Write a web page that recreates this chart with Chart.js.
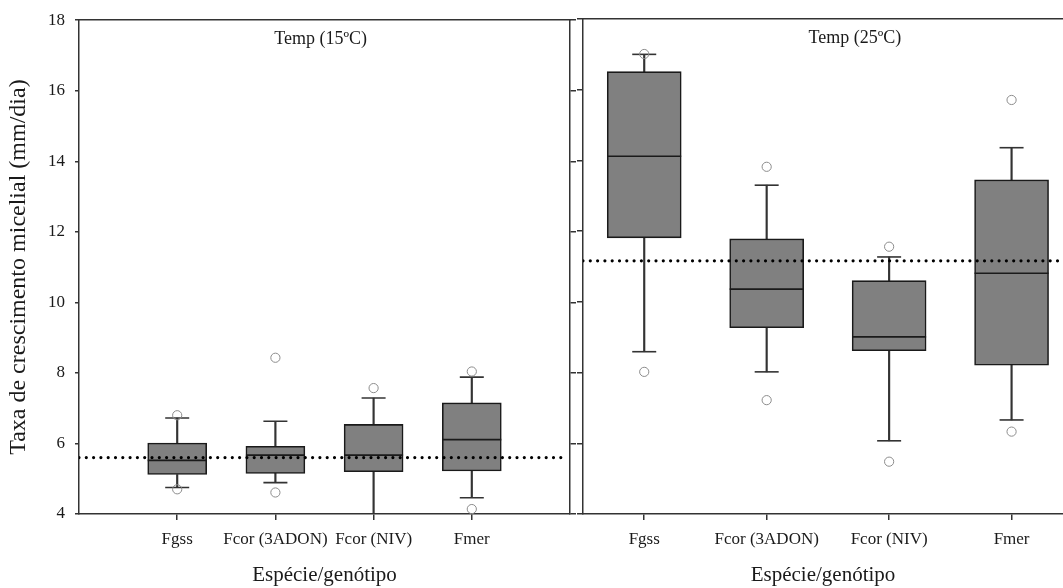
<!DOCTYPE html>
<html>
<head>
<meta charset="utf-8">
<script src="https://cdn.jsdelivr.net/npm/chart.js@4.4.1/dist/chart.umd.min.js"></script>
<style>
  html, body { margin: 0; padding: 0; background: #fff; }
  #wrap { position: relative; width: 1063px; height: 588px; overflow: hidden; }
  canvas { position: absolute; top: 0; }
  #c15 { left: 0; }
  #c25 { left: 576px; }
</style>
</head>
<body>
<div id="wrap">
  <canvas id="c15" width="576" height="588"></canvas>
  <canvas id="c25" width="487" height="588"></canvas>
</div>
<script>
"use strict";

/* ── Data ───────────────────────────────────────────────── */
const categories = ['Fgss', 'Fcor (3ADON)', 'Fcor (NIV)', 'Fmer'];
const yTicks = [4, 6, 8, 10, 12, 14, 16, 18];

// Temp 15 °C
const q1_15   = [5.12, 5.15, 5.20, 5.22];
const med_15  = [5.52, 5.67, 5.67, 6.11];
const q3_15   = [6.01, 5.92, 6.54, 7.15];
const lo_15   = [4.75, 4.89, 4.00, 4.46];
const hi_15   = [6.72, 6.63, 7.29, 7.88];
const out_15  = [[4.70, 6.80], [4.61, 8.43], [7.57], [4.14, 8.04]];
const mean_15 = 5.60;

// Temp 25 °C
const q1_25   = [11.81, 9.27, 8.62, 8.21];
const med_25  = [14.12, 10.36, 9.01, 10.81];
const q3_25   = [16.51, 11.78, 10.60, 13.45];
const lo_25   = [8.59, 8.02, 6.07, 6.66];
const hi_25   = [17.00, 13.30, 11.27, 14.36];
const out_25  = [[8.02, 17.01], [7.22, 13.82], [5.48, 11.56], [6.33, 15.71]];
const mean_25 = 11.16;

/* ── Style ──────────────────────────────────────────────── */
const FONT = '"Liberation Serif", "Times New Roman", serif';
const INK = '#1a1a1a';
const AXIS = '#333333';
const BOX_FILL = '#808080';
const OUTLIER = '#8c8c8c';

Chart.defaults.font.family = FONT;
Chart.defaults.color = INK;

/** Panel caption drawn inside the plot ("Temp (..)") */
const panelLabel = {
  id: 'panelLabel',
  afterDatasetsDraw(chart, args, opts) {
    const { ctx, chartArea, scales } = chart;
    ctx.save();
    ctx.font = `18px ${FONT}`;
    ctx.fillStyle = INK;
    ctx.textAlign = 'center';
    ctx.textBaseline = 'middle';
    ctx.fillText(opts.text, scales.x.getPixelForValue(opts.at), chartArea.top + 19);
    ctx.restore();
  }
};

/**
 * Box-plot pieces as ordinary Chart.js datasets.
 */
function boxDatasets(p) {
  const pos = categories.map((c, i) => i + 1);
  const pt = (vals) => vals.map((v, i) => ({ x: pos[i], y: v }));
  return [
    { // mean reference line (dotted)
      type: 'line', order: 0,
      data: [{ x: p.lineFrom, y: p.mean }, { x: p.lineTo, y: p.mean }],
      borderColor: '#000', borderWidth: 3.2, borderDash: [0, 7.3],
      borderCapStyle: 'round', pointRadius: 0, pointHoverRadius: 0,
    },
    { // outliers
      type: 'scatter', order: 1,
      data: p.out.flatMap((arr, i) => arr.map(v => ({ x: pos[i], y: v }))),
      pointStyle: 'circle', pointRadius: 4.6, pointHoverRadius: 4.6,
      borderColor: OUTLIER, backgroundColor: 'rgba(0,0,0,0)', borderWidth: 1,
    },
    { // medians
      type: 'scatter', order: 2, data: pt(p.med),
      pointStyle: 'line', pointRadius: p.boxW / 2, pointHoverRadius: p.boxW / 2,
      borderColor: INK, borderWidth: 1.6,
    },
    { // whisker caps
      type: 'scatter', order: 3, data: [...pt(p.lo), ...pt(p.hi)],
      pointStyle: 'line', pointRadius: 12, pointHoverRadius: 12,
      borderColor: AXIS, borderWidth: 1.6,
    },
    { // boxes
      type: 'bar', order: 4, grouped: false,
      data: p.q1.map((v, i) => ({ x: pos[i], y: [v, p.q3[i]] })),
      backgroundColor: BOX_FILL, borderColor: INK, borderWidth: 1.6,
      borderSkipped: false, barThickness: p.boxW,
    },
    { // lower whiskers
      type: 'bar', order: 5, grouped: false,
      data: p.lo.map((v, i) => ({ x: pos[i], y: [v, p.q1[i]] })),
      backgroundColor: AXIS, barThickness: 1.5,
    },
    { // upper whiskers
      type: 'bar', order: 5, grouped: false,
      data: p.hi.map((v, i) => ({ x: pos[i], y: [p.q3[i], v] })),
      backgroundColor: AXIS, barThickness: 1.5,
    },
  ];
}

function tickGrid(len) {
  return { display: true, drawOnChartArea: false, drawTicks: true,
           tickLength: len, color: AXIS, lineWidth: 1.5, offset: false };
}

function makePanel(id, p) {
  const scales = {
    x: {
      type: 'linear', min: p.xMin, max: p.xMax, offset: false,
      grid: tickGrid(6),
      border: { display: true, color: AXIS, width: 1.5 },
      afterBuildTicks: s => { s.ticks = categories.map((c, i) => ({ value: i + 1 })); },
      ticks: {
        autoSkip: false, maxRotation: 0, padding: 9,
        font: { size: 17 }, color: INK,
        callback: v => categories[v - 1],
      },
      title: { display: true, text: 'Espécie/genótipo', font: { size: 21 },
               color: INK, padding: { top: 0, bottom: 0 } },
      afterFit: s => { s.height = 74; },
    },
    xTop: {
      type: 'linear', position: 'top', min: p.xMin, max: p.xMax,
      grid: { display: false }, ticks: { display: false },
      border: { display: true, color: AXIS, width: 1.5 },
      afterFit: s => { s.height = 19; },
    },
    y: {
      type: 'linear', min: 4, max: 18,
      afterBuildTicks: s => { s.ticks = yTicks.map(v => ({ value: v })); },
      grid: tickGrid(p.showYLabels ? 4 : 6),
      border: { display: true, color: AXIS, width: 1.5 },
      ticks: { display: p.showYLabels, padding: 10, font: { size: 17 }, color: INK },
      title: { display: p.showYLabels, text: 'Taxa de crescimento micelial (mm/dia)',
               font: { size: 24 }, color: INK, padding: { top: 4, bottom: 0 } },
      afterFit: s => { s.width = p.yWidth; },
    },
  };
  if (p.rightAxis) {
    scales.yR = {
      type: 'linear', position: 'right', min: 4, max: 18,
      afterBuildTicks: s => { s.ticks = yTicks.map(v => ({ value: v })); },
      grid: tickGrid(6),
      border: { display: true, color: AXIS, width: 1.5 },
      ticks: { display: false },
      afterFit: s => { s.width = 6; },
    };
  }

  return new Chart(document.getElementById(id), {
    type: 'bar',
    data: { datasets: boxDatasets(p) },
    options: {
      responsive: false,
      animation: false,
      layout: { padding: 0, autoPadding: false },
      plugins: {
        legend: { display: false },
        tooltip: { enabled: false },
        panelLabel: { text: p.label, at: p.labelAt },
      },
      scales,
    },
    plugins: [panelLabel],
  });
}

/* ── Init ───────────────────────────────────────────────── */
makePanel('c15', {
  q1: q1_15, med: med_15, q3: q3_15, lo: lo_15, hi: hi_15, out: out_15, mean: mean_15,
  xMin: 0, xMax: 5, lineFrom: 0, lineTo: 4.93, boxW: 59,
  showYLabels: true, yWidth: 79, rightAxis: true,
  label: 'Temp (15ºC)', labelAt: 2.46,
});

makePanel('c25', {
  q1: q1_25, med: med_25, q3: q3_25, lo: lo_25, hi: hi_25, out: out_25, mean: mean_25,
  xMin: 0.5, xMax: 4.42, lineFrom: 0.5, lineTo: 4.42, boxW: 74,
  showYLabels: false, yWidth: 7, rightAxis: false,
  label: 'Temp (25ºC)', labelAt: 2.72,
});
</script>
</body>
</html>
